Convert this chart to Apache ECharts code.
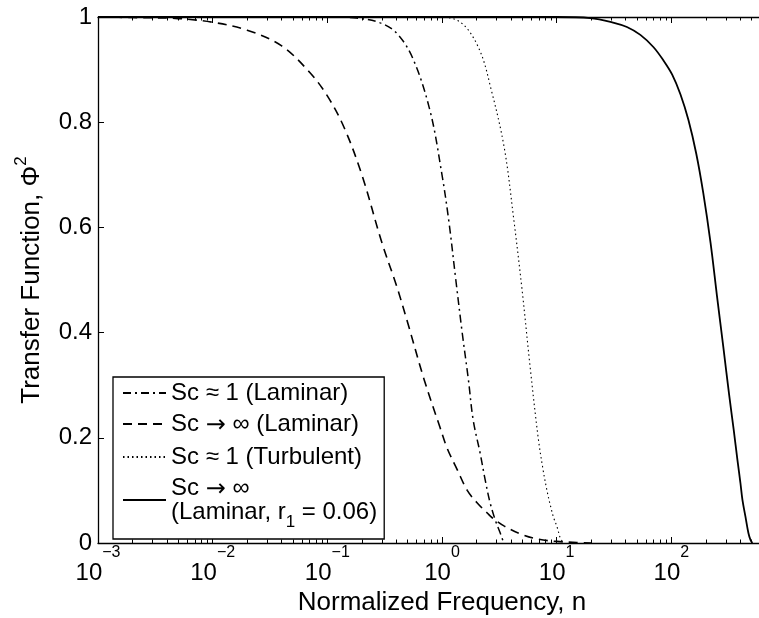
<!DOCTYPE html>
<html><head><meta charset="utf-8">
<script src="https://cdn.jsdelivr.net/npm/echarts@6/dist/echarts.min.js"></script>
<style>html,body{margin:0;padding:0;background:#fff}#c{width:759px;height:618px}</style>
</head><body><div id="c"></div>
<script>
// ---- data ----
const seriesNames = ['Sc ≈ 1 (Laminar)', 'Sc → ∞ (Laminar)', 'Sc ≈ 1 (Turbulent)', 'Sc → ∞ (Laminar, r1 = 0.06)'];

const ddX = [0.001, 0.01, 0.05, 0.1, 0.18, 0.28, 0.4, 0.56, 0.79, 1.0, 1.15, 1.32, 1.5, 1.7, 1.87, 2.15, 2.38, 2.63, 2.91, 3.22, 3.45];
const ddY = [1, 1, 1, 1, 0.998, 0.99, 0.97, 0.92, 0.82, 0.70, 0.61, 0.50, 0.40, 0.31, 0.234, 0.171, 0.12, 0.076, 0.044, 0.019, 0];

const dashX = [0.001, 0.002, 0.005, 0.01, 0.02, 0.04, 0.07, 0.1, 0.14, 0.2, 0.3, 0.4, 0.5, 0.7, 0.96, 1.11, 1.36, 1.66, 2.03, 2.48, 2.74, 3.5, 5, 7, 10, 15, 20];
const dashY = [1.0, 0.999, 0.997, 0.99, 0.975, 0.945, 0.895, 0.85, 0.79, 0.70, 0.57, 0.49, 0.42, 0.31, 0.22, 0.18, 0.139, 0.10, 0.076, 0.057, 0.048, 0.032, 0.016, 0.007, 0.003, 0.001, 0];

const dotX = [0.001, 0.01, 0.1, 0.5, 0.9, 1.45, 2.1, 2.7, 3.5, 4.2, 5.0, 5.9, 6.9, 7.6, 8.28, 8.8, 9.35, 10.1, 10.7, 11.3, 11.6];
const dotY = [1, 1, 1, 1, 1, 0.99, 0.94, 0.86, 0.75, 0.62, 0.48, 0.33, 0.2, 0.14, 0.097, 0.072, 0.05, 0.03, 0.011, 0.002, 0];

const solX = [0.001, 0.01, 0.1, 1, 5, 10, 19.6, 30.5, 41, 53.7, 69.7, 85, 102, 120, 141, 165, 190, 220, 250, 285, 320, 350, 377, 400, 417, 443, 470, 490, 509];
const solY = [1, 1, 1, 1, 1, 1, 0.998, 0.99, 0.981, 0.966, 0.943, 0.918, 0.89, 0.853, 0.804, 0.74, 0.665, 0.57, 0.47, 0.37, 0.28, 0.215, 0.158, 0.115, 0.082, 0.05, 0.019, 0.006, 0];

const xMin = 0.001, xMax = 1000;
const yMin = 0, yMax = 1, yStep = 0.2;
const xTitle = 'Normalized Frequency, n';
const yTitle = 'Transfer Function, Φ';

// ---- chart ----
const FONT = 'Liberation Sans, Arial, Helvetica, sans-serif';
const FS = 24;      // tick labels & legend
const FT = 26;      // axis titles
const pairs = (xs, ys) => xs.map((x, i) => [x, ys[i]]);
const chart = echarts.init(document.getElementById('c'), null, {renderer: 'canvas'});

const lineBase = {type: 'line', symbol: 'none', showSymbol: false, smooth: 0.35, animation: false, xAxisIndex: 0, yAxisIndex: 0, clip: true};

const supFmt = v => {
  const e = Math.round(Math.log10(v));
  return '{b|10}{s|' + (e < 0 ? '−' + (-e) : e) + '}';
};

const axisCommonX = {
  type: 'log', logBase: 10, min: xMin, max: xMax, gridIndex: 0,
  axisLine: {show: true, onZero: false, lineStyle: {color: '#000', width: 1.3}},
  axisTick: {show: true, inside: true, length: 6, lineStyle: {color: '#000', width: 1}},
  minorTick: {show: true, splitNumber: 9, length: 3.5, lineStyle: {color: '#000', width: 1}},
  splitLine: {show: false}, minorSplitLine: {show: false}
};

const legendFmt = name => {
  if (name === seriesNames[3]) return '{a|Sc }{ar|→}{a| ∞}\n{a|(Laminar, r}{u|1}{a| = 0.06)}';
  const m = name.split('→');
  if (m.length === 2) return '{a|' + m[0] + '}{ar|→}{a|' + m[1] + '}';
  return '{a|' + name + '}';
};

chart.setOption({
  animation: false,
  backgroundColor: '#fff',
  grid: {left: 98, right: -27, top: 17, bottom: 75, containLabel: false, outerBoundsMode: 'none'},
  xAxis: [
    Object.assign({}, axisCommonX, {
      position: 'bottom',
      name: xTitle, nameLocation: 'middle', nameGap: 44,
      nameTextStyle: {fontFamily: FONT, fontSize: FT, color: '#000'},
      axisLabel: {
        show: true, margin: 16, formatter: supFmt, color: '#000',
        rich: {
          b: {fontFamily: FONT, fontSize: FS, lineHeight: 26, color: '#000', verticalAlign: 'bottom'},
          s: {fontFamily: FONT, fontSize: 16, lineHeight: 18, color: '#000', verticalAlign: 'bottom', padding: [0, 0, 24, 0]}
        }
      }
    }),
    Object.assign({}, axisCommonX, {position: 'top', axisLabel: {show: false}})
  ],
  yAxis: [{
    type: 'value', min: yMin, max: yMax, interval: yStep,
    axisLine: {show: true, onZero: false, lineStyle: {color: '#000', width: 1.3}},
    axisTick: {show: true, inside: true, length: 6, lineStyle: {color: '#000', width: 1}},
    splitLine: {show: false},
    axisLabel: {margin: 6, color: '#000', fontFamily: FONT, fontSize: FS, formatter: v => String(+v.toFixed(1))},
    name: '{t|' + yTitle + '}{s|2}', nameLocation: 'middle', nameGap: 53, nameRotate: 90,
    nameTextStyle: {
      rich: {
        t: {fontFamily: FONT, fontSize: FT, lineHeight: 29, color: '#000', verticalAlign: 'bottom'},
        s: {fontFamily: FONT, fontSize: 17, lineHeight: 19, color: '#000', verticalAlign: 'bottom', padding: [0, 0, 15, 0]}
      }
    }
  }],
  legend: {
    show: true, orient: 'vertical', left: 113, top: 377,
    itemWidth: 43, itemHeight: 12, itemGap: 7,
    backgroundColor: '#fff', borderColor: '#000', borderWidth: 1.3, borderRadius: 0,
    padding: [4, 7, 8, 9],
    itemStyle: {opacity: 0},
    data: seriesNames,
    formatter: legendFmt,
    textStyle: {
      fontFamily: FONT, color: '#000',
      rich: {
        a: {fontFamily: FONT, fontSize: FS, lineHeight: 24, color: '#000', verticalAlign: 'top'},
        ar: {fontFamily: 'DejaVu Sans', fontSize: 24, lineHeight: 24, color: '#000', verticalAlign: 'top', padding: [2, 0, 0, 0]},
        u: {fontFamily: FONT, fontSize: 17, lineHeight: 16, color: '#000', verticalAlign: 'top', padding: [14, 0, 0, 0]}
      }
    }
  },
  series: [
    Object.assign({}, lineBase, {name: seriesNames[0], data: pairs(ddX, ddY), lineStyle: {color: '#000', width: 1.5, type: [8, 4, 2, 4]}, itemStyle: {color: '#000'}}),
    Object.assign({}, lineBase, {name: seriesNames[1], data: pairs(dashX, dashY), lineStyle: {color: '#000', width: 1.6, type: [9, 6]}, itemStyle: {color: '#000'}}),
    Object.assign({}, lineBase, {name: seriesNames[2], data: pairs(dotX, dotY), lineStyle: {color: '#000', width: 1.1, type: [1.5, 3]}, itemStyle: {color: '#000'}}),
    Object.assign({}, lineBase, {name: seriesNames[3], data: pairs(solX, solY), lineStyle: {color: '#000', width: 1.8, type: 'solid'}, itemStyle: {color: '#000'}})
  ]
});
</script>
</body></html>
